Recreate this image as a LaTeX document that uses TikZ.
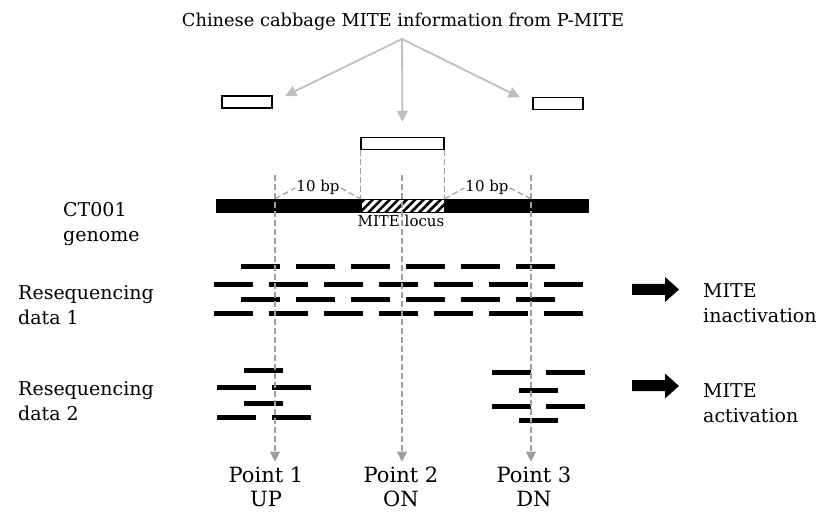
\documentclass[tikz,border=0pt]{standalone}
\usepackage{fontspec}
\setmainfont{DejaVu Serif}
\usetikzlibrary{arrows.meta,patterns.meta,calc}
\begin{document}
\begin{tikzpicture}[x=1pt,y=-1pt,
  graylink/.style={draw=black!25,line width=1.8pt,-{Triangle[length=11pt,width=11pt]}},
  guide/.style={draw=black!38,line width=1.2pt,dash pattern=on 6pt off 3pt},
  guidearrow/.style={guide,-{Triangle[length=10pt,width=10pt,color=black!38]}},
  openbox/.style={draw=black,line width=1.5pt,fill=white,minimum height=12pt,inner sep=0pt},
  readseg/.style={line width=5pt,black},
  lbl/.style={inner sep=0pt,align=left,font=\fontsize{19}{25}\selectfont},
  small/.style={inner sep=1pt,font=\fontsize{15}{16}\selectfont},
  pointlbl/.style={inner sep=0pt,align=center,font=\fontsize{21}{23.5}\selectfont},
  fatarrow/.style={fill=black}
]
\useasboundingbox (0,0) rectangle (820,513);

% title and MITE boxes
\node[inner sep=0pt,font=\fontsize{17.8}{20}\selectfont,anchor=base] (title) at (403,27) {Chinese cabbage MITE information from P-MITE};
\coordinate (src) at (402,39);
\node[openbox,minimum width=50pt] (lbox) at (247,102) {};
\node[openbox,minimum width=50pt] (rbox) at (558,103.5) {};
\node[openbox,minimum width=83pt] (cbox) at (402.5,143.5) {};
\draw[graylink,shorten >=14pt] (src) -- (lbox.east);
\draw[graylink,shorten >=14pt] (src) -- (rbox.west);
\draw[graylink,shorten >=15pt] (src) -- (cbox.north);

% genome
\node[fill=black,inner sep=0pt,minimum width=373pt,minimum height=14pt] (genome) at (402.5,206) {};
\node[draw=black,line width=1pt,fill=white,inner sep=0pt,minimum width=83pt,minimum height=13pt,
      postaction={pattern={Lines[angle=45,distance=6pt,line width=2.6pt]}}] (locus) at (402.5,206) {};
\node[small,anchor=base] (mitelocus) at (401,227) {MITE locus};
\node[small,anchor=base] (bp1) at (318,192) {10 bp};
\node[small,anchor=base] (bp2) at (487,192) {10 bp};

% labels left (base = last line)
\node[lbl,anchor=base west] (ct) at (63,242) {CT001\\genome};
\node[lbl,anchor=base west] (rs1) at (18,325) {Resequencing\\data 1};
\node[lbl,anchor=base west] (rs2) at (18,420) {Resequencing\\data 2};

% reads data 1
\foreach \y in {267,300}{
  \foreach \i in {0,...,5}{
    \draw[readseg] ({241+55*\i},\y) -- ++(39,0);
  }
}
\foreach \y in {285,314}{
  \foreach \i in {0,...,6}{
    \draw[readseg] ({214+55*\i},\y) -- ++(39,0);
  }
}
% reads data 2
\foreach \x/\y in {244/370,217/387,272/387,244/403,217/417,272/417,
                   492/372,546/372,519/390,492/406,546/406,519/420}{
  \draw[readseg] (\x,\y) -- ++(39,0);
}

% fat arrows and results
\fill[fatarrow] (632,284) -- (665,284) -- (665,277) -- (679,289.5) -- (665,302) -- (665,295) -- (632,295) -- cycle;
\fill[fatarrow] (632,380) -- (665,380) -- (665,373.5) -- (679,386) -- (665,398.5) -- (665,391) -- (632,391) -- cycle;
\node[lbl,anchor=base west] (res1) at (703,323) {MITE\\inactivation};
\node[lbl,anchor=base west] (res2) at (703,422) {MITE\\activation};

% points
\node[pointlbl,anchor=base] (p1) at (266,506) {Point 1\\UP};
\node[pointlbl,anchor=base] (p2) at (401,506) {Point 2\\ON};
\node[pointlbl,anchor=base] (p3) at (534,506) {Point 3\\DN};

% guides
\coordinate (u1) at (275,175);
\coordinate (o1) at (402,175);
\coordinate (d1) at (531,175);
\draw[guide] (cbox.south west) -- (cbox.south west |- genome.north);
\draw[guide] (cbox.south east) -- (cbox.south east |- genome.north);
\draw[guide] (u1 |- genome.north) -- (bp1.west);
\draw[guide] (bp1.east) -- (locus.north west);
\draw[guide] (locus.north east) -- (bp2.west);
\draw[guide] (bp2.east) -- (d1 |- genome.north);
\draw[guidearrow,shorten >=5pt] (u1) -- (u1 |- p1.north);
\draw[guidearrow,shorten >=5pt] (o1) -- (o1 |- p2.north);
\draw[guidearrow,shorten >=5pt] (d1) -- (d1 |- p3.north);
\end{tikzpicture}
\end{document}
